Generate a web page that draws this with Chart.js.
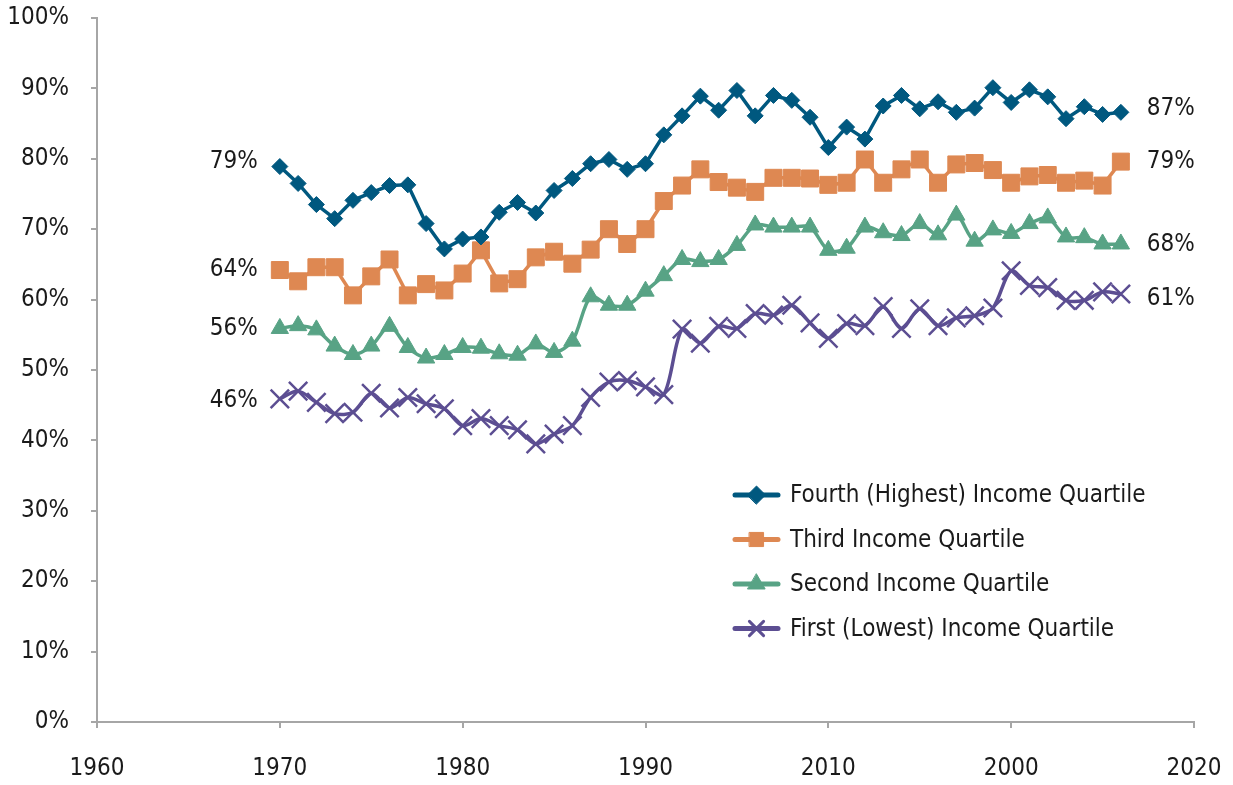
<!DOCTYPE html>
<html>
<head>
<meta charset="utf-8">
<script src="https://cdn.jsdelivr.net/npm/chart.js@4"></script>
<style>
  html, body { margin: 0; padding: 0; background: #fff; }
</style>
</head>
<body>
<canvas id="chart1" width="1233" height="785"></canvas>
<script>
// years on the x axis
const years = [
  1970, 1971, 1972, 1973, 1974, 1975, 1976, 1977, 1978, 1979,
  1980, 1981, 1982, 1983, 1984, 1985, 1986, 1987, 1988, 1989,
  1990, 1991, 1992, 1993, 1994, 1995, 1996, 1997, 1998, 1999,
  2000, 2001, 2002, 2003, 2004, 2005, 2006, 2007, 2008, 2009,
  2010, 2011, 2012, 2013, 2014, 2015, 2016,
];

// tick labels, as printed on the original (1960 .. 2020)
const xTickLabels = ['1960', '1970', '1980', '1990', '2010', '2000', '2020'];

const fourthQuartile = [
  78.9, 76.5, 73.5, 71.5, 74.1, 75.2, 76.2, 76.3, 70.8, 67.2,
  68.6, 68.9, 72.4, 73.8, 72.3, 75.5, 77.2, 79.3, 79.9, 78.5,
  79.3, 83.4, 86.1, 88.9, 86.9, 89.7, 86.1, 89.0, 88.3, 85.9,
  81.6, 84.5, 82.8, 87.5, 89.0, 87.1, 88.1, 86.6, 87.2, 90.1,
  88.0, 89.8, 88.8, 85.7, 87.4, 86.3, 86.6,
];
const thirdQuartile = [
  64.2, 62.6, 64.6, 64.6, 60.6, 63.3, 65.7, 60.6, 62.2, 61.3,
  63.7, 67.0, 62.3, 62.9, 66.0, 66.8, 65.1, 67.1, 70.0, 67.9,
  70.0, 74.0, 76.2, 78.5, 76.7, 75.9, 75.3, 77.3, 77.3, 77.2,
  76.3, 76.6, 79.9, 76.6, 78.5, 79.9, 76.6, 79.2, 79.4, 78.4,
  76.6, 77.5, 77.7, 76.6, 76.9, 76.2, 79.6,
];
const secondQuartile = [
  55.9, 56.3, 55.7, 53.4, 52.2, 53.4, 56.2, 53.2, 51.7, 52.2,
  53.2, 53.1, 52.3, 52.1, 53.7, 52.5, 54.1, 60.4, 59.2, 59.2,
  61.2, 63.4, 65.7, 65.4, 65.7, 67.7, 70.6, 70.3, 70.3, 70.3,
  67.0, 67.3, 70.3, 69.5, 69.1, 70.8, 69.2, 72.0, 68.3, 69.9,
  69.4, 70.8, 71.6, 68.9, 68.8, 67.9, 67.9,
];
const firstQuartile = [
  45.9, 47.0, 45.4, 43.8, 44.0, 46.7, 44.6, 46.1, 45.2, 44.5,
  42.1, 43.1, 42.1, 41.5, 39.5, 40.9, 42.1, 46.1, 48.3, 48.5,
  47.6, 46.5, 55.8, 53.8, 56.2, 55.9, 58.0, 57.8, 59.2, 56.7,
  54.5, 56.6, 56.3, 59.0, 55.9, 58.7, 56.3, 57.4, 57.7, 58.8,
  64.1, 62.0, 61.7, 59.9, 59.9, 61.1, 60.8,
];

const seriesNames = [
  'Fourth (Highest) Income Quartile',
  'Third Income Quartile',
  'Second Income Quartile',
  'First (Lowest) Income Quartile',
];
const startLabels = ['79%', '64%', '56%', '46%'];
const endLabels = ['87%', '79%', '68%', '61%'];

const FONT = "'Liberation Sans Narrow', 'Arial Narrow', 'DejaVu Sans Condensed', sans-serif";
const FONT_SIZE = 24;
const TEXT = '#1a1a1a';
const AXIS = '#a6a6a6';

const toPoints = values => values.map((v, i) => ({ x: years[i], y: v }));

const chartData = {
  datasets: [
    {
      label: seriesNames[0],
      data: toPoints(fourthQuartile),
      borderColor: '#00587f',
      backgroundColor: '#00587f',
      borderWidth: 3.5,
      pointStyle: 'rectRot',
      pointRadius: 8,
      pointBorderWidth: 1,
      tension: 0,
    },
    {
      label: seriesNames[1],
      data: toPoints(thirdQuartile),
      borderColor: '#de8852',
      backgroundColor: '#de8852',
      borderWidth: 3.5,
      pointStyle: 'rect',
      pointRadius: 12,
      pointBorderWidth: 1,
      tension: 0,
    },
    {
      label: seriesNames[2],
      data: toPoints(secondQuartile),
      borderColor: '#58a385',
      backgroundColor: '#58a385',
      borderWidth: 3.5,
      pointStyle: 'triangle',
      pointRadius: 10,
      pointBorderWidth: 1,
      tension: 0.3,
    },
    {
      label: seriesNames[3],
      data: toPoints(firstQuartile),
      borderColor: '#5c4e92',
      backgroundColor: '#5c4e92',
      borderWidth: 3.5,
      pointStyle: 'crossRot',
      pointRadius: 13,
      pointBorderWidth: 2.5,
      tension: 0.3,
    },
  ],
};

// the 79% / 87% style labels at both ends of every line
const endLabelPlugin = {
  id: 'endLabelPlugin',
  afterDatasetsDraw(chart) {
    const ctx = chart.ctx;
    const xs = chart.scales.x;
    const ys = chart.scales.y;
    const leftNudge = [-5, 0, 0, 2];
    const rightNudge = [-4, 0, 1, 5];
    ctx.save();
    ctx.font = FONT_SIZE + 'px ' + FONT;
    ctx.fillStyle = TEXT;
    ctx.textBaseline = 'middle';
    chart.data.datasets.forEach((ds, i) => {
      const first = ds.data[0];
      const last = ds.data[ds.data.length - 1];
      ctx.textAlign = 'right';
      ctx.fillText(startLabels[i], xs.getPixelForValue(first.x) - 22, ys.getPixelForValue(first.y) + leftNudge[i]);
      ctx.textAlign = 'left';
      ctx.fillText(endLabels[i], xs.getPixelForValue(last.x) + 26, ys.getPixelForValue(last.y) + rightNudge[i]);
    });
    ctx.restore();
  },
};

// legend drawn inside the plot, lower right
const insideLegend = {
  id: 'insideLegend',
  afterDraw(chart) {
    const ctx = chart.ctx;
    const x0 = 735;
    const y0 = 495;
    const rowH = 44.5;
    const markerSize = [9, 10, 10, 10];
    ctx.save();
    chart.data.datasets.forEach((ds, i) => {
      const y = y0 + i * rowH;
      ctx.strokeStyle = ds.borderColor;
      ctx.fillStyle = ds.backgroundColor;
      ctx.lineWidth = 5;
      ctx.lineCap = 'round';
      ctx.beginPath();
      ctx.moveTo(x0, y);
      ctx.lineTo(x0 + 43, y);
      ctx.stroke();
      ctx.lineWidth = ds.pointStyle === 'crossRot' ? 3 : 1;
      Chart.helpers.drawPoint(ctx, {
        pointStyle: ds.pointStyle,
        radius: markerSize[i],
        borderWidth: ctx.lineWidth,
        rotation: 0,
      }, x0 + 21.5, y);
      ctx.fillStyle = TEXT;
      ctx.font = FONT_SIZE + 'px ' + FONT;
      ctx.textAlign = 'left';
      ctx.textBaseline = 'middle';
      ctx.fillText(ds.label, 790, y + 1);
    });
    ctx.restore();
  },
};

const ctx = document.getElementById('chart1').getContext('2d');
const chart = new Chart(ctx, {
  type: 'line',
  data: chartData,
  options: {
    responsive: false,
    animation: false,
    layout: { padding: { top: 18, right: 39, left: 0, bottom: 0 } },
    plugins: {
      legend: { display: false },
      tooltip: { enabled: false },
    },
    scales: {
      x: {
        type: 'linear',
        min: 1960,
        max: 2020,
        afterFit: scale => {
          scale.height = 63;
          scale.paddingLeft = 0;
          scale.paddingRight = 0;
        },
        ticks: {
          stepSize: 10,
          padding: 26,
          color: TEXT,
          font: { family: FONT, size: FONT_SIZE },
          maxRotation: 0,
          callback: (value, index) => xTickLabels[index],
        },
        grid: { drawOnChartArea: false, drawTicks: true, tickLength: 6, color: AXIS, lineWidth: 2 },
        border: { color: AXIS, width: 2 },
      },
      y: {
        min: 0,
        max: 100,
        afterFit: scale => {
          scale.width = 97;
          scale.paddingTop = 0;
          scale.paddingBottom = 0;
        },
        ticks: {
          stepSize: 10,
          padding: 22,
          color: TEXT,
          font: { family: FONT, size: FONT_SIZE },
          callback: value => value + '%',
        },
        grid: { drawOnChartArea: false, drawTicks: true, tickLength: 6, color: AXIS, lineWidth: 2 },
        border: { color: AXIS, width: 2 },
      },
    },
  },
  plugins: [endLabelPlugin, insideLegend],
});
</script>
</body>
</html>
